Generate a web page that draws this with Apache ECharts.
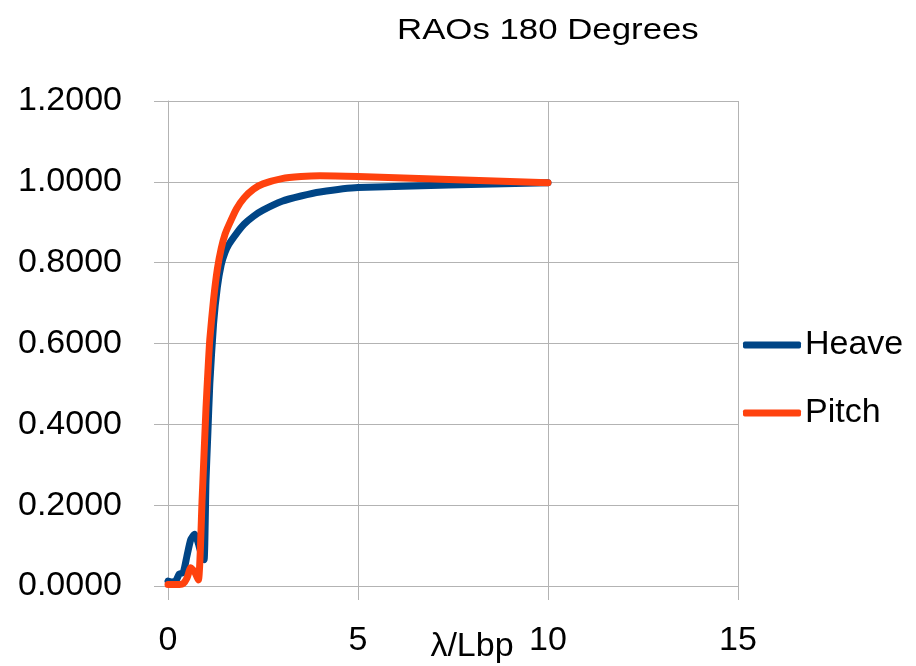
<!DOCTYPE html>
<html>
<head>
<meta charset="utf-8">
<script src="https://cdn.jsdelivr.net/npm/echarts@6/dist/echarts.min.js"></script>
<style>
  html, body { margin: 0; padding: 0; background: #ffffff; }
  #chart { width: 916px; height: 666px; }
</style>
</head>
<body>
<div id="chart"></div>
<script>
// Wavelength / ship length ratio
const ratio = [0, 0.1, 0.2, 0.3, 0.4, 0.5, 0.6, 0.7, 0.8, 0.9, 0.95, 1.0, 1.05, 1.1,
  1.2, 1.3, 1.4, 1.5, 1.6, 1.8, 2.0, 2.25, 2.5, 3.0, 3.5, 4.0, 5.0, 10.0];

// Response amplitude operators, head seas (180 degrees)
const heave = [0.012, 0.010, 0.012, 0.030, 0.033, 0.075, 0.115, 0.128, 0.105, 0.070, 0.065, 0.260, 0.380, 0.500,
  0.650, 0.740, 0.795, 0.825, 0.845, 0.872, 0.895, 0.915, 0.930, 0.952, 0.965, 0.975, 0.986, 0.998];
const pitch = [0.004, 0.004, 0.004, 0.004, 0.006, 0.020, 0.045, 0.035, 0.015, 0.220, 0.330, 0.440, 0.530, 0.610,
  0.710, 0.785, 0.835, 0.870, 0.893, 0.933, 0.960, 0.982, 0.995, 1.008, 1.013, 1.015, 1.013, 0.998];

const titleText = 'RAOs 180 Degrees';
const xName = 'λ/Lbp';

const pairs = (xs, ys) => xs.map((x, i) => [x, ys[i]]);
const font = '"Liberation Sans", Arial, sans-serif';
const gridColor = '#b3b3b3';

const chart = echarts.init(document.getElementById('chart'), null, { renderer: 'canvas' });
chart.setOption({
  animation: false,
  backgroundColor: '#ffffff',
  graphic: [
    {
      // chart title, drawn slightly widened
      type: 'text',
      x: 397,
      y: 16,
      scaleX: 1.2,
      style: {
        text: titleText,
        font: '29px ' + font,
        fill: '#000'
      }
    }
  ],
  legend: {
    orient: 'vertical',
    left: 738,
    top: 323,
    itemWidth: 58,
    itemHeight: 7,
    itemGap: 34,
    icon: 'roundRect',
    textStyle: { fontFamily: font, fontSize: 34, color: '#000', padding: [0, 0, 10, -1] },
    data: ['Heave', 'Pitch']
  },
  grid: { left: 168, right: 178, top: 101, bottom: 80, containLabel: false, outerBoundsMode: 'none' },
  xAxis: {
    type: 'value',
    min: 0, max: 15, interval: 5,
    name: xName,
    nameLocation: 'middle',
    nameGap: 44,
    nameMoveOverlap: false,
    nameTextStyle: { fontFamily: font, fontSize: 34, color: '#000', padding: [0, 0, 0, 38] },
    axisLine: { show: true, lineStyle: { color: gridColor, width: 1 } },
    axisTick: { show: true, length: 14, lineStyle: { color: gridColor } },
    axisLabel: { fontFamily: font, fontSize: 34, color: '#000', margin: 38 },
    splitLine: { show: true, lineStyle: { color: gridColor, width: 1 } }
  },
  yAxis: {
    type: 'value',
    min: 0, max: 1.2, interval: 0.2,
    axisLine: { show: true, lineStyle: { color: gridColor, width: 1 } },
    axisTick: { show: true, length: 14, lineStyle: { color: gridColor } },
    axisLabel: {
      fontFamily: font, fontSize: 34, color: '#000', margin: 46,
      formatter: v => v.toFixed(4)
    },
    splitLine: { show: true, lineStyle: { color: gridColor, width: 1 } }
  },
  series: [
    {
      name: 'Heave',
      type: 'line',
      data: pairs(ratio, heave),
      smooth: 0.2,
      showSymbol: false,
      symbol: 'none',
      itemStyle: { color: '#004586' },
      lineStyle: { color: '#004586', width: 7, cap: 'round', join: 'round' },
      z: 2
    },
    {
      name: 'Pitch',
      type: 'line',
      data: pairs(ratio, pitch),
      smooth: 0.2,
      showSymbol: false,
      symbol: 'none',
      itemStyle: { color: '#ff420e' },
      lineStyle: { color: '#ff420e', width: 7, cap: 'round', join: 'round' },
      z: 3
    }
  ]
});
</script>
</body>
</html>
